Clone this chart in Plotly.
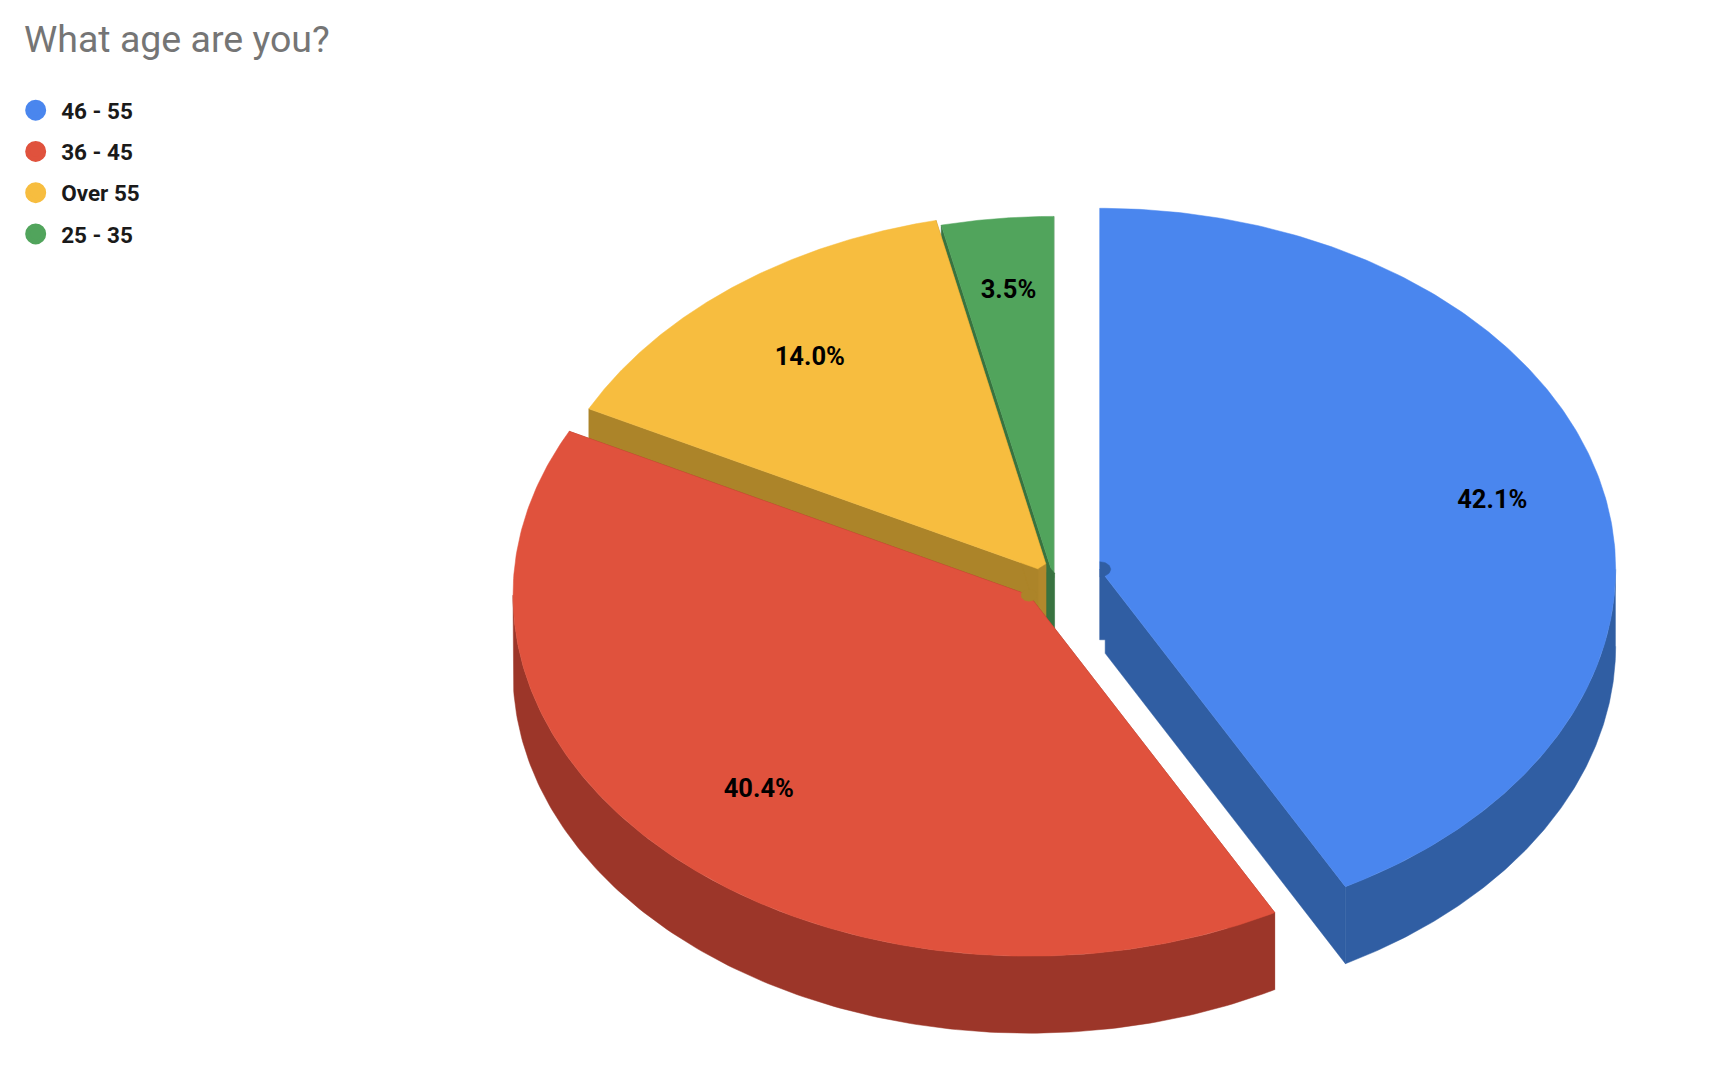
import numpy as np
import plotly.graph_objects as go

# chart data
age_groups = ["46 - 55", "36 - 45", "Over 55", "25 - 35"]
shares = [42.1, 40.4, 14.0, 3.5]
explode = [0.0917, 0.0688, 0.0165, 0.0]
label_r = [0.785, 0.75, 0.755, 0.80]

top_colors = ["#4A86EE", "#E0523D", "#F7BD3F", "#51A45C"]
side_colors = ["#305EA3", "#9C3629", "#AC8429", "#387340"]
core_yellow = "#B1882C"

# pie geometry, in page pixels
cx, cy = 1053.8, 577.4
rx, ry = 516.0, 361.0
depth = 77.0


def point(c, a, r=1.0):
    return c[0] + r * rx * np.sin(a), c[1] - r * ry * np.cos(a)


def add_poly(fig, xs, ys, color, group):
    fig.add_trace(go.Scatter(
        x=xs, y=ys, mode="lines", fill="toself", fillcolor=color,
        line=dict(width=0.5, color=color), hoverinfo="skip",
        legendgroup=group, showlegend=False,
    ))


fig = go.Figure()

# work out the slices from the shares
total = sum(shares)
edges = np.cumsum([0] + shares) / total * 2 * np.pi
slices = []
for i, name in enumerate(age_groups):
    a0, a1 = edges[i], edges[i + 1]
    mid = (a0 + a1) / 2
    c = point((cx, cy), mid, explode[i])
    slices.append(dict(name=name, a0=a0, a1=a1, mid=mid, c=c, i=i))

# back to front: green, yellow, red, blue
for s in [slices[3], slices[2], slices[1], slices[0]]:
    i, c, a0, a1 = s["i"], s["c"], s["a0"], s["a1"]
    side = side_colors[i]
    for a in (a0, a1):
        ex, ey = point(c, a)
        if i == 0 and a == a1:
            # blue cut face has a small step next to the core
            add_poly(fig,
                     [c[0], ex, ex, c[0] + 5.5, c[0] + 5.5, c[0], c[0]],
                     [c[1], ey, ey + depth, c[1] + depth + 7, c[1] + depth - 6.5, c[1] + depth - 6.5, c[1]],
                     side, s["name"])
        elif i != 0:
            add_poly(fig, [c[0], ex, ex, c[0]], [c[1], ey, ey + depth, c[1] + depth], side, s["name"])
    # outer wall, only the front half of the ellipse shows
    lo, hi = max(a0, np.pi / 2), min(a1, 3 * np.pi / 2)
    if lo < hi:
        arc = np.linspace(lo, hi, 160)
        ax, ay = point(c, arc)
        add_poly(fig, np.r_[ax, ax[::-1]], np.r_[ay, ay[::-1] + depth], side, s["name"])
    arc = np.linspace(a0, a1, 240)
    ax, ay = point(c, arc)
    add_poly(fig, np.r_[c[0], ax, c[0]], np.r_[c[1], ay, c[1]], top_colors[i], s["name"])
    if i == 2:
        # lighter core band at the yellow tip, with the green wall showing next to it
        add_poly(fig,
                 [c[0] - 10, c[0] - 2, c[0] - 2, c[0] - 10, c[0] - 10],
                 [c[1] - 4, c[1] - 9, c[1] + depth - 30, c[1] + depth - 30, c[1] - 4],
                 core_yellow, s["name"])
        add_poly(fig,
                 [c[0] - 2, c[0] + 6, c[0] + 6, c[0] - 2, c[0] - 2],
                 [c[1] - 9, c[1] + 0.5, c[1] + depth, c[1] + depth, c[1] - 9],
                 side_colors[3], age_groups[3])

# small core stubs around the slice tips
blob = np.linspace(0, 2 * np.pi, 40)
bx = slices[1]["c"][0] + 8 * np.sin(blob)
by = slices[1]["c"][1] + 6 * np.cos(blob)
add_poly(fig, bx, by, side_colors[2], age_groups[2])
half = np.linspace(0, np.pi, 24)
bx = slices[0]["c"][0] + 11 * np.sin(half)
by = slices[0]["c"][1] + 7.5 * np.cos(half)
add_poly(fig, bx, by, side_colors[0], age_groups[0])

# percent labels
for s in slices:
    lx, ly = point(s["c"], s["mid"], label_r[s["i"]])
    fig.add_trace(go.Scatter(
        x=[lx], y=[ly + 1.5], mode="text", text=["%.1f%%" % shares[s["i"]]],
        textposition="middle center",
        textfont=dict(family="Roboto", size=25.5, color="#000000", weight=700),
        hoverinfo="skip", legendgroup=s["name"], showlegend=False,
    ))

# legend entries
for i, name in enumerate(age_groups):
    fig.add_trace(go.Scatter(
        x=[None], y=[None], mode="markers", name=name, legendgroup=name,
        marker=dict(size=16, color=top_colors[i], line=dict(width=5, color=top_colors[i])),
    ))

fig.update_layout(
    width=1726, height=1090,
    margin=dict(l=0, r=0, t=0, b=0),
    paper_bgcolor="white", plot_bgcolor="white",
    title=dict(
        text="What age are you?", x=24 / 1726, xanchor="left",
        y=1 - 39 / 1090, yanchor="middle",
        font=dict(family="Roboto", size=37.5, color="#757575"),
    ),
    legend=dict(
        x=0.0059, y=1 - 89 / 1090, xanchor="left", yanchor="top",
        font=dict(family="Roboto", size=22.5, color="#1A1A1A", weight=700),
        tracegroupgap=9, itemwidth=41, bgcolor="rgba(0,0,0,0)",
    ),
    xaxis=dict(range=[0, 1726], visible=False, fixedrange=True),
    yaxis=dict(range=[1090, 0], visible=False, fixedrange=True),
)

fig.write_html("out.html", config=dict(displayModeBar=False),
               post_script="document.body.style.margin='0';")
